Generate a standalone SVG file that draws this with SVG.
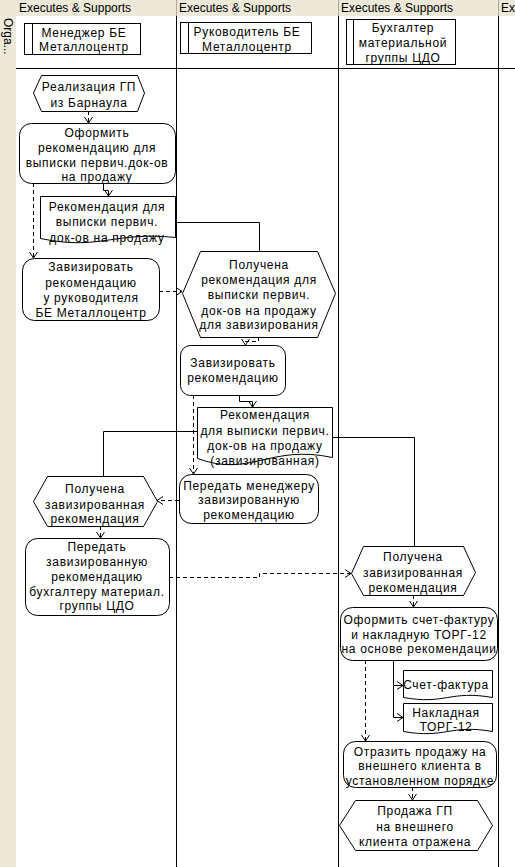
<svg xmlns="http://www.w3.org/2000/svg" width="515" height="867" viewBox="0 0 515 867">
<defs>
<style>
text{font-family:"Liberation Sans",Arial,sans-serif;font-size:12px;fill:#000}
.n{text-anchor:middle;letter-spacing:0.7px}
.hdr{letter-spacing:0}
.sh{fill:#fff;stroke:#000;stroke-width:1}
.ln{fill:none;stroke:#000;stroke-width:1}
.ds{fill:none;stroke:#000;stroke-width:1;stroke-dasharray:4 3}
.lane{stroke:#000;stroke-width:1}
</style>
<marker id="ah" markerUnits="userSpaceOnUse" markerWidth="12" markerHeight="12" viewBox="-8 -6 10 12" refX="0" refY="0" orient="auto">
<path d="M-6,-4 L0,0 L-6,4" fill="none" stroke="#000" stroke-width="1" stroke-dasharray="none"/>
</marker>
</defs>
<rect x="0" y="0" width="515" height="867" fill="#fff"/>
<g id="frame">
<rect x="0" y="0" width="515" height="16" fill="#ece9d8"/>
<rect x="0" y="0" width="16" height="867" fill="#ece9d8"/>
<line x1="176.5" y1="0" x2="176.5" y2="16" stroke="#aca899"/>
<line x1="338.5" y1="0" x2="338.5" y2="16" stroke="#aca899"/>
<line x1="498.5" y1="0" x2="498.5" y2="16" stroke="#aca899"/>
<line class="lane" x1="176.5" y1="16" x2="176.5" y2="867"/>
<line class="lane" x1="338.5" y1="16" x2="338.5" y2="867"/>
<line class="lane" x1="498.5" y1="16" x2="498.5" y2="867"/>
<line class="lane" x1="16" y1="68.5" x2="515" y2="68.5"/>
<text class="hdr" x="19" y="12">Executes &amp; Supports</text>
<text class="hdr" x="179" y="12">Executes &amp; Supports</text>
<text class="hdr" x="341" y="12">Executes &amp; Supports</text>
<text class="hdr" x="501" y="12">Exe</text>
<text class="hdr" transform="translate(4,18) rotate(90)">Orga...</text>
</g>
<g id="lane1">
<rect class="sh" x="24.5" y="23.5" width="116" height="31"/>
<line class="ln" x1="32.5" y1="23.5" x2="32.5" y2="54.5"/>
<text class="n" x="84" y="36.5">Менеджер БЕ</text>
<text class="n" x="84" y="51">Металлоцентр</text>
</g>
<g id="lane2">
<rect class="sh" x="180.5" y="22.5" width="131" height="31"/>
<line class="ln" x1="188.5" y1="22.5" x2="188.5" y2="53.5"/>
<text class="n" x="247" y="36">Руководитель БЕ</text>
<text class="n" x="247" y="50.5">Металлоцентр</text>
</g>
<g id="lane3">
<rect class="sh" x="346.5" y="19.5" width="109" height="45"/>
<line class="ln" x1="353.5" y1="19.5" x2="353.5" y2="64.5"/>
<text class="n" x="403" y="31.5">Бухгалтер</text>
<text class="n" x="403" y="47">материальной</text>
<text class="n" x="403" y="62">группы ЦДО</text>
</g>
<g id="connectors">
<path class="ds" d="M88.5,111 V123" marker-end="url(#ah)"/>
<path class="ln" d="M103.5,183 V190.5 H108.5 V196" marker-end="url(#ah)"/>
<path class="ds" d="M33.5,183 V258" marker-end="url(#ah)"/>
<path class="ln" d="M175,222.5 H259.5 V251"/>
<path class="ds" d="M159,291.5 H182" marker-end="url(#ah)"/>
<path class="ds" d="M258.5,337 V341.5 H245.5 V345" marker-end="url(#ah)"/>
<path class="ln" d="M239.5,395 V401.5 H252.5 V407" marker-end="url(#ah)"/>
<path class="ds" d="M193.5,395 V474" marker-end="url(#ah)"/>
<path class="ln" d="M197,431.5 H103.5 V476"/>
<path class="ln" d="M332,437.5 H414.5 V546"/>
<path class="ds" d="M179,500.5 H157" marker-end="url(#ah)"/>
<path class="ds" d="M100.5,526 V538" marker-end="url(#ah)"/>
<path class="ds" d="M169,577.5 H259.5 V573.5 H351" marker-end="url(#ah)"/>
<path class="ds" d="M413.5,595 V607" marker-end="url(#ah)"/>
<path class="ln" d="M393.5,660 V685.5 H403" marker-end="url(#ah)"/>
<path class="ln" d="M393.5,685.5 V717.5 H403" marker-end="url(#ah)"/>
<path class="ds" d="M365.5,660 V741" marker-end="url(#ah)"/>
<path class="ds" d="M412.5,787 V800" marker-end="url(#ah)"/>
</g>
<g id="n1">
<polygon class="sh" points="33.5,93 41.5,75.5 137.5,75.5 144.5,93 137.5,111.5 41.5,111.5"/>
<text class="n" x="89" y="91">Реализация ГП</text>
<text class="n" x="89" y="107">из Барнаула</text>
</g>
<g id="n2">
<rect class="sh" x="19.5" y="123.5" width="156" height="60" rx="12"/>
<text class="n" x="97" y="137">Оформить</text>
<text class="n" x="97" y="152">рекомендацию для</text>
<text class="n" x="97" y="167">выписки первич.док-ов</text>
<text class="n" x="97" y="181">на продажу</text>
</g>
<g id="n3">
<path class="sh" d="M40.5,196.5 H175.5 V237.5 C114,231 100,251 40.5,238.5 Z"/>
<text class="n" x="107" y="211">Рекомендация для</text>
<text class="n" x="107" y="226">выписки первич.</text>
<text class="n" x="107" y="242">док-ов на продажу</text>
</g>
<g id="n4">
<rect class="sh" x="22.5" y="258.5" width="137" height="62" rx="12"/>
<text class="n" x="91" y="271">Завизировать</text>
<text class="n" x="91" y="287">рекомендацию</text>
<text class="n" x="91" y="302">у руководителя</text>
<text class="n" x="91" y="317">БЕ Металлоцентр</text>
</g>
<g id="n5">
<polygon class="sh" points="182.5,293.5 200.5,251.5 317.5,251.5 335.5,293.5 317.5,337.5 200.5,337.5"/>
<text class="n" x="259" y="269">Получена</text>
<text class="n" x="259" y="284">рекомендация для</text>
<text class="n" x="259" y="299">выписки первич.</text>
<text class="n" x="259" y="315">док-ов на продажу</text>
<text class="n" x="259" y="329">для завизирования</text>
</g>
<g id="n6">
<rect class="sh" x="180.5" y="345.5" width="105" height="50" rx="10"/>
<text class="n" x="233" y="367">Завизировать</text>
<text class="n" x="233" y="382">рекомендацию</text>
</g>
<g id="n7">
<path class="sh" d="M197.5,407.5 H332.5 V457.5 C270,444 250,478 197.5,458.5 Z"/>
<text class="n" x="265" y="419">Рекомендация</text>
<text class="n" x="265" y="435">для выписки первич.</text>
<text class="n" x="265" y="450">док-ов на продажу</text>
<text class="n" x="265" y="465">(завизированная)</text>
</g>
<g id="n8">
<rect class="sh" x="179.5" y="474.5" width="139" height="49" rx="12"/>
<text class="n" x="249" y="490">Передать менеджеру</text>
<text class="n" x="249" y="504">завизированную</text>
<text class="n" x="249" y="519">рекомендацию</text>
</g>
<g id="n9">
<polygon class="sh" points="33.5,501.5 47.5,476.5 143.5,476.5 157.5,501.5 143.5,526.5 47.5,526.5"/>
<text class="n" x="95" y="493">Получена</text>
<text class="n" x="95" y="509">завизированная</text>
<text class="n" x="95" y="523">рекомендация</text>
</g>
<g id="n10">
<rect class="sh" x="25.5" y="538.5" width="144" height="77" rx="12"/>
<text class="n" x="97" y="551">Передать</text>
<text class="n" x="97" y="566">завизированную</text>
<text class="n" x="97" y="581">рекомендацию</text>
<text class="n" x="97" y="596">бухгалтеру материал.</text>
<text class="n" x="97" y="610">группы ЦДО</text>
</g>
<g id="n11">
<polygon class="sh" points="351.5,573.5 363.5,546.5 463.5,546.5 475.5,572.5 463.5,595.5 363.5,595.5"/>
<text class="n" x="413" y="561">Получена</text>
<text class="n" x="413" y="577">завизированная</text>
<text class="n" x="413" y="592">рекомендация</text>
</g>
<g id="n12">
<rect class="sh" x="340.5" y="607.5" width="157" height="53" rx="12"/>
<text class="n" x="419" y="624">Оформить счет-фактуру</text>
<text class="n" x="419" y="639">и накладную ТОРГ-12</text>
<text class="n" x="419" y="653">на основе рекомендации</text>
</g>
<g id="n13">
<path class="sh" d="M403.5,670.5 H492.5 V697.5 C450,690 445,705 403.5,697.5 Z"/>
<text class="n" x="446" y="689">Счет-фактура</text>
</g>
<g id="n14">
<path class="sh" d="M403.5,703.5 H492.5 V731.5 C450,724 445,739 403.5,731.5 Z"/>
<text class="n" x="446" y="717">Накладная</text>
<text class="n" x="446" y="731">ТОРГ-12</text>
</g>
<g id="n15">
<rect class="sh" x="343.5" y="741.5" width="153" height="46" rx="12"/>
<text class="n" x="420" y="756">Отразить продажу на</text>
<text class="n" x="420" y="770">внешнего клиента в</text>
<text class="n" x="420" y="785">установленном порядке</text>
</g>
<g id="n16">
<polygon class="sh" points="339.5,825.5 355.5,800.5 477.5,800.5 492.5,825.5 477.5,850.5 355.5,850.5"/>
<text class="n" x="415" y="815">Продажа ГП</text>
<text class="n" x="415" y="831">на внешнего</text>
<text class="n" x="415" y="846">клиента отражена</text>
</g>
</svg>
